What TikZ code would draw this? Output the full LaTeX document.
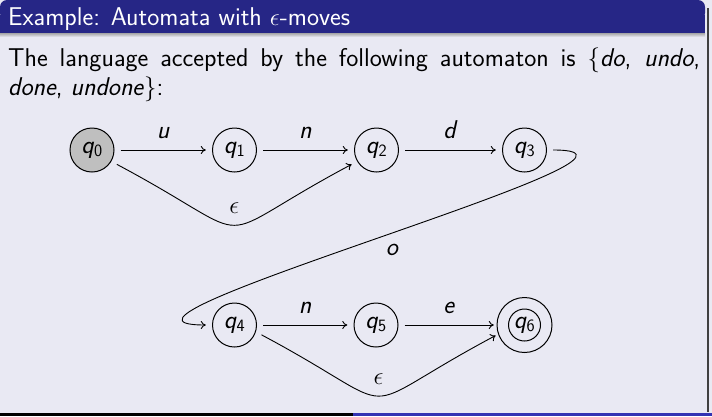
\documentclass[tikz,border=0pt]{standalone}
\usepackage{amsmath}
\usetikzlibrary{arrows.meta}
\definecolor{titlebg}{RGB}{38,38,134}
\definecolor{bodybg}{RGB}{233,233,243}
\definecolor{barblue}{RGB}{51,51,179}
\definecolor{stgray}{RGB}{191,191,191}
\newcommand\lbl[1]{\textsf{\textit{#1}}}
\newcommand\stq[1]{\textsf{\textit{q}}$_{\mathsf{#1}}$}
\begin{document}
\begin{tikzpicture}[x=1pt,y=1pt,
  every node/.style={font=\fontsize{25.7}{31}\selectfont\sffamily},
  stbase/.style={circle, inner sep=0pt, minimum size=57pt},
  st/.style={stbase, path picture={\draw[line width=1pt] (path picture bounding box.center) circle (22);}},
  stinit/.style={stbase, path picture={\draw[line width=1pt, fill=stgray] (path picture bounding box.center) circle (22);}},
  stacc/.style={stbase, minimum size=61pt, path picture={\draw[line width=1pt] (path picture bounding box.center) circle (27.5) (path picture bounding box.center) circle (16);}},
  trans/.style={->, >={To[length=5pt,width=8pt]}, line width=0.9pt},
  elbl/.style={inner sep=11pt},
  auto]
\useasboundingbox (0,0) rectangle (712,-416);
% background and block frame
\fill[bodybg] (0,0) rectangle (712,-416);
\fill[titlebg, rounded corners=7pt] (0,-20) rectangle (705,0);
\fill[titlebg] (0,-33) rectangle (705,-15);
\shade[top color=black!35, bottom color=bodybg] (0,-33) rectangle (705,-37);
\draw[black!75, line width=1.5pt] (708,-8) -- (708,-412);
\fill[black] (0,-413) rectangle (353,-416);
\fill[barblue] (353,-413) rectangle (712,-416);
% title and text
\node[anchor=base west, text=white, inner sep=0pt] (title) at (8,-25) {Example: Automata with $\epsilon$-moves};
\node[anchor=base west, inner sep=0pt] (line1) at (8,-66) {\makebox[692pt][s]{The language accepted by the following automaton is $\{$\textit{do}, \textit{undo},}};
\node[anchor=base west, inner sep=0pt] (line2) at (8,-95) {\textit{done}, \textit{undone}$\}$:};
% states
\node[stinit] (q0) at (92,-150) {\stq{0}};
\node[st] (q1) at (234.5,-150) {\stq{1}};
\node[st] (q2) at (376.5,-150) {\stq{2}};
\node[st] (q3) at (524.5,-150) {\stq{3}};
\node[st] (q4) at (234.5,-325) {\stq{4}};
\node[st] (q5) at (376,-325) {\stq{5}};
\node[stacc] (q6) at (524.5,-325) {\stq{6}};
% transitions
\draw[trans] (q0) -- node[elbl] {\lbl{u}} (q1);
\draw[trans] (q1) -- node[elbl] {\lbl{n}} (q2);
\draw[trans] (q2) -- node[elbl] {\lbl{d}} (q3);
\draw[trans] (q0.-30) .. controls +(-28:173) and +(-152:173) .. node[elbl] {$\epsilon$} (q2.-150);
\draw[trans] (q3.east) to[out=0, in=180] node[inner sep=6pt] {\lbl{o}} (q4.west);
\draw[trans] (q4) -- node[elbl] {\lbl{n}} (q5);
\draw[trans] (q5) -- node[elbl] {\lbl{e}} (q6);
\draw[trans] (q4.-20) .. controls +(-28:173) and +(-152:173) .. node[elbl] {$\epsilon$} (q6.-160);
\end{tikzpicture}
\end{document}
